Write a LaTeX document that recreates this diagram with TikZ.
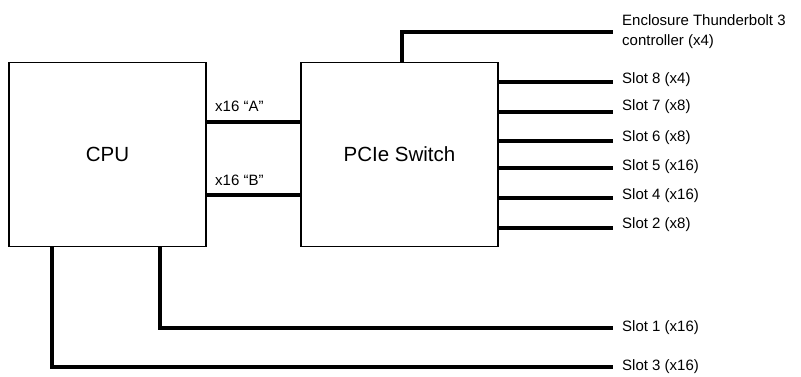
\documentclass[tikz,border=0pt]{standalone}
\usepackage{fontspec}
\setmainfont{Liberation Sans}
\begin{document}
\begin{tikzpicture}[x=1pt,y=-1pt,
    chip/.style={draw,line width=1.5pt,minimum width=197pt,minimum height=184pt,inner sep=0pt,font=\fontsize{20.5}{24}\selectfont},
    lane/.style={line width=4.5pt},
    lbl/.style={anchor=west,inner sep=0pt,align=left,font=\fontsize{15}{20}\selectfont}]
    \useasboundingbox (0,0) rectangle (801,376);
    \node[chip] (cpu) at (107.5,154.5) {CPU};
    \node[chip] (sw) at (399.5,154.5) {PCIe Switch};
    \coordinate (aL) at (cpu.east |- 0,122);
    \coordinate (aR) at (sw.west |- 0,122);
    \coordinate (bL) at (cpu.east |- 0,195);
    \coordinate (bR) at (sw.west |- 0,195);
    \draw[lane] (aL) -- (aR);
    \draw[lane] (bL) -- (bR);
    \node[lbl] (lA) at (215,106) {x16 “A”};
    \node[lbl] (lB) at (215,180) {x16 “B”};
    \coordinate (tb) at (613,32);
    \draw[lane] (sw.north -| 402,0) |- (tb);
    \node[lbl] (ltb) at (622,32) {Enclosure Thunderbolt 3\\controller (x4)};
    \foreach \slot/\ly/\ty in {8 (x4)/82/80, 7 (x8)/112/107, 6 (x8)/141/138, 5 (x16)/168/167, 4 (x16)/198/196, 2 (x8)/228/225}{
      \coordinate (e\ly) at (613,\ly);
      \draw[lane] (sw.east |- e\ly) -- (e\ly);
      \node[lbl] (s\ly) at (622,\ty) {Slot \slot};
    }
    \coordinate (e1) at (613,328);
    \coordinate (e3) at (613,367);
    \draw[lane] (cpu.south -| 160,0) |- (e1);
    \draw[lane] (cpu.south -| 52,0) |- (e3);
    \node[lbl] (s1) at (622,328) {Slot 1 (x16)};
    \node[lbl] (s3) at (622,367) {Slot 3 (x16)};
\end{tikzpicture}
\end{document}
